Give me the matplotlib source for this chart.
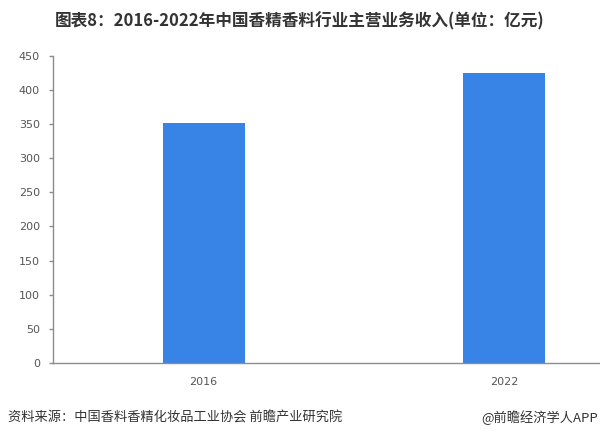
import matplotlib
matplotlib.use("Agg")
import matplotlib.pyplot as plt

plt.rcParams['font.family'] = ['Noto Sans CJK SC', 'DejaVu Sans']

categories = ["2016", "2022"]
values = [352, 424]
yticks = [0, 50, 100, 150, 200, 250, 300, 350, 400, 450]

title = "图表8：2016-2022年中国香精香料行业主营业务收入(单位：亿元)"
source = "资料来源：中国香料香精化妆品工业协会 前瞻产业研究院"
credit = "@前瞻经济学人APP"

fig = plt.figure(figsize=(6.0, 4.38), dpi=100)
ax = fig.add_axes([0.0875, 0.1712, 0.9125, 0.7016])

x = list(range(len(categories)))
ax.bar(x, values, width=0.273, color="#3784e6", zorder=2)

ax.set_xlim(-0.5025, 1.319)
ax.set_ylim(0, 450)
ax.set_yticks(yticks)
ax.set_yticklabels([str(v) for v in yticks], family=['DejaVu Sans'])
ax.set_xticks(x)
ax.set_xticklabels(categories, family=['DejaVu Sans'])

for s in ["top", "right"]:
    ax.spines[s].set_visible(False)
for s in ["left", "bottom"]:
    ax.spines[s].set_color("#8c8c8c")
    ax.spines[s].set_linewidth(1.0)

ax.tick_params(axis='y', length=3, width=1, color="#8c8c8c", pad=6,
               labelsize=8, labelcolor="#555555")
ax.tick_params(axis='x', length=0, pad=10, labelsize=8, labelcolor="#555555")

fig.text(0.5, 1 - 21 / 438, title, ha='center', va='center',
         fontsize=12, fontweight='bold', color="#333333")
fig.text(8 / 600, 1 - 418 / 438, source, ha='left', va='center',
         fontsize=9.5, color="#333333")
fig.text(598 / 600, 1 - 418 / 438, credit, ha='right', va='center',
         fontsize=9.5, color="#333333")

fig.savefig("out.png", dpi=100)
